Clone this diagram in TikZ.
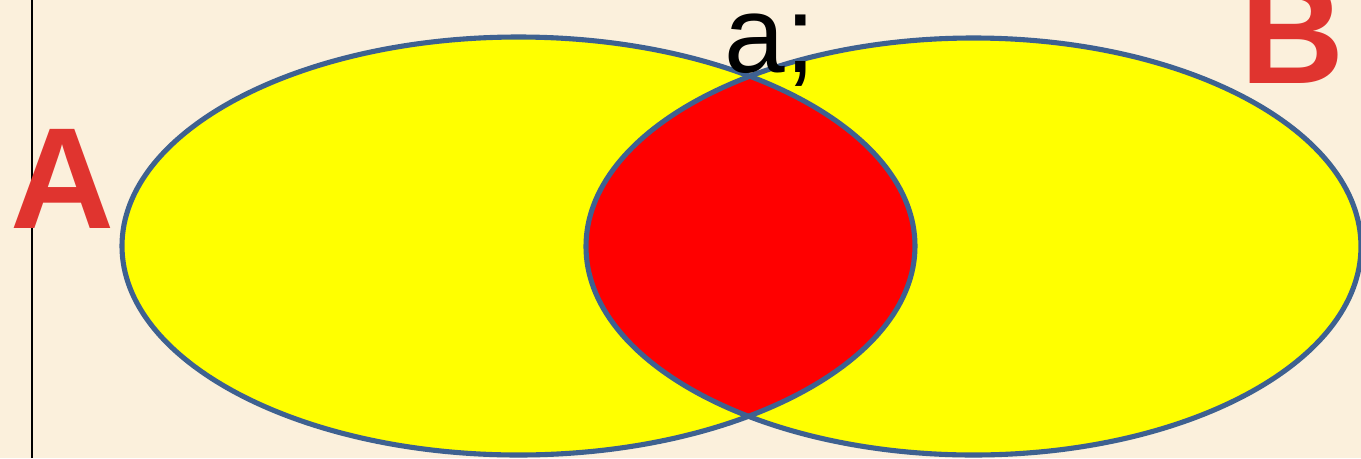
\documentclass[tikz,border=0pt]{standalone}
\usepackage{fontspec}
\setmainfont{Liberation Sans}
\usepackage{tikz}
\usepackage{xcolor}
\usetikzlibrary{positioning}
\definecolor{parchment}{HTML}{FBF0DC}
\definecolor{setfill}{HTML}{FFFF00}
\definecolor{overlap}{HTML}{FF0000}
\definecolor{rim}{HTML}{3E6190}
\definecolor{labelred}{HTML}{E0342F}

\begin{document}
\begin{tikzpicture}
    % Page background
    \fill[parchment] (0,0) rectangle (13.61,4.58);
    \useasboundingbox (0,0) rectangle (13.61,4.58);

    % Left margin line
    \draw[black, line width=0.6pt] (0.32,0) -- (0.32,4.58);

    % Set A and set B
    \fill[setfill] (5.185,2.12) ellipse [x radius=3.965cm, y radius=2.09cm];
    \fill[setfill] (9.735,2.115) ellipse [x radius=3.875cm, y radius=2.085cm];

    % Intersection
    \begin{scope}
        \clip (5.185,2.12) ellipse [x radius=3.965cm, y radius=2.09cm];
        \fill[overlap] (9.735,2.115) ellipse [x radius=3.875cm, y radius=2.085cm];
    \end{scope}

    % Outlines
    \draw[rim, line width=1.45pt] (5.185,2.12) ellipse [x radius=3.965cm, y radius=2.09cm];
    \draw[rim, line width=1.45pt] (9.735,2.115) ellipse [x radius=3.875cm, y radius=2.085cm];

    % Labels
    \node[labelred, font=\fontsize{41}{41}\selectfont\bfseries, anchor=base west, inner sep=0pt] (labelA) at (0.10,2.30) {A};
    \node[labelred, font=\fontsize{41}{41}\selectfont\bfseries, anchor=base west, inner sep=0pt] (labelB) at (12.40,3.75) {B};
    \node[black, font=\fontsize{31}{31}\selectfont, anchor=base west, inner sep=0pt] (labelAB) at (7.24,3.86) {a;};
\end{tikzpicture}
\end{document}
